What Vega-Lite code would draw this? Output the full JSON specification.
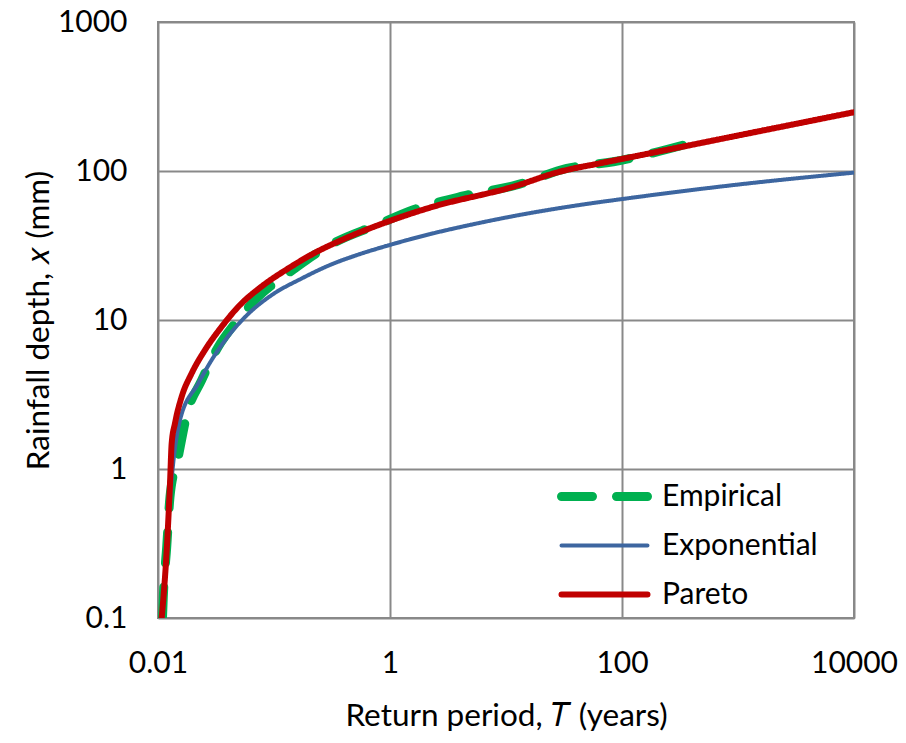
{
  "$schema": "https://vega.github.io/schema/vega-lite/v6.json",
  "autosize": "none",
  "width": 696,
  "height": 596,
  "padding": {"left": 158, "top": 22, "right": 52, "bottom": 125},
  "background": "white",
  "config": {
    "font": "Lato",
    "view": {"stroke": "#898989", "strokeWidth": 2},
    "axis": {"gridColor": "#898989", "gridWidth": 2, "gridOpacity": 1, "domain": false, "ticks": false, "labelFlush": false, "labelFont": "Lato", "labelFontSize": 30, "labelColor": "#000", "titleFont": "Lato", "titleFontSize": 31.5, "titleFontWeight": "normal", "titleColor": "#000"}
  },
  "data": {"values": [
    {"series": "Empirical", "T": 0.01093, "x": 0.1},
    {"series": "Empirical", "T": 0.01111, "x": 0.139},
    {"series": "Empirical", "T": 0.01189, "x": 0.3},
    {"series": "Empirical", "T": 0.01269, "x": 0.652},
    {"series": "Empirical", "T": 0.01496, "x": 1.21},
    {"series": "Empirical", "T": 0.01768, "x": 2.3},
    {"series": "Empirical", "T": 0.0238, "x": 3.95},
    {"series": "Empirical", "T": 0.0331, "x": 6.62},
    {"series": "Empirical", "T": 0.04611, "x": 9.5},
    {"series": "Empirical", "T": 0.0732, "x": 14.3},
    {"series": "Empirical", "T": 0.1329, "x": 20.6},
    {"series": "Empirical", "T": 0.1914, "x": 25.3},
    {"series": "Empirical", "T": 0.3245, "x": 32.7},
    {"series": "Empirical", "T": 0.7678, "x": 43.4},
    {"series": "Empirical", "T": 1.588, "x": 55},
    {"series": "Empirical", "T": 4.28, "x": 68},
    {"series": "Empirical", "T": 12.37, "x": 80.6},
    {"series": "Empirical", "T": 33.4, "x": 104},
    {"series": "Empirical", "T": 84.1, "x": 115.4},
    {"series": "Empirical", "T": 385, "x": 153.5},
    {"series": "Exponential", "T": 0.01093, "x": 0.1},
    {"series": "Exponential", "T": 0.01334, "x": 0.985},
    {"series": "Exponential", "T": 0.01548, "x": 2.13},
    {"series": "Exponential", "T": 0.02226, "x": 3.76},
    {"series": "Exponential", "T": 0.02903, "x": 5.39},
    {"series": "Exponential", "T": 0.04036, "x": 7.8},
    {"series": "Exponential", "T": 0.06004, "x": 11.0},
    {"series": "Exponential", "T": 0.09555, "x": 14.7},
    {"series": "Exponential", "T": 0.1733, "x": 19.0},
    {"series": "Exponential", "T": 0.304, "x": 23.4},
    {"series": "Exponential", "T": 0.5, "x": 27.0},
    {"series": "Exponential", "T": 1, "x": 31.9},
    {"series": "Exponential", "T": 2.212, "x": 37.7},
    {"series": "Exponential", "T": 5, "x": 43.6},
    {"series": "Exponential", "T": 11.6, "x": 49.8},
    {"series": "Exponential", "T": 43.5, "x": 59.2},
    {"series": "Exponential", "T": 100, "x": 64.8},
    {"series": "Exponential", "T": 1000, "x": 81.1},
    {"series": "Exponential", "T": 10000, "x": 97.5},
    {"series": "Pareto", "T": 0.01076, "x": 0.1},
    {"series": "Pareto", "T": 0.01189, "x": 0.286},
    {"series": "Pareto", "T": 0.01269, "x": 0.8},
    {"series": "Pareto", "T": 0.01312, "x": 1.49},
    {"series": "Pareto", "T": 0.01402, "x": 2.03},
    {"series": "Pareto", "T": 0.01601, "x": 3.06},
    {"series": "Pareto", "T": 0.01952, "x": 4.39},
    {"series": "Pareto", "T": 0.02542, "x": 6.29},
    {"series": "Pareto", "T": 0.0354, "x": 9.02},
    {"series": "Pareto", "T": 0.04923, "x": 12.28},
    {"series": "Pareto", "T": 0.0783, "x": 16.8},
    {"series": "Pareto", "T": 0.1329, "x": 22.2},
    {"series": "Pareto", "T": 0.2183, "x": 27.9},
    {"series": "Pareto", "T": 0.4232, "x": 35.6},
    {"series": "Pareto", "T": 1, "x": 46.3},
    {"series": "Pareto", "T": 2.212, "x": 56.8},
    {"series": "Pareto", "T": 11.6, "x": 78.5},
    {"series": "Pareto", "T": 29.2, "x": 99},
    {"series": "Pareto", "T": 64.6, "x": 112.6},
    {"series": "Pareto", "T": 100, "x": 120.5},
    {"series": "Pareto", "T": 1000, "x": 173},
    {"series": "Pareto", "T": 10000, "x": 248}
  ]},
  "mark": {"type": "line", "interpolate": "monotone", "clip": true, "strokeCap": "round", "strokeJoin": "round"},
  "encoding": {
    "x": {"field": "T", "type": "quantitative", "scale": {"type": "log", "domain": [0.01, 10000], "nice": false},
      "axis": {"values": [0.01, 1, 100, 10000], "format": "~g", "labelPadding": 30, "title": "Return period, 𝑇 (years)", "titlePadding": 22}},
    "y": {"field": "x", "type": "quantitative", "scale": {"type": "log", "domain": [0.1, 1000], "nice": false},
      "axis": {"values": [0.1, 1, 10, 100, 1000], "format": "~g", "labelPadding": 31, "title": "Rainfall depth, 𝑥 (mm)", "titlePadding": 2}},
    "color": {"field": "series", "type": "nominal", "scale": {"domain": ["Empirical", "Exponential", "Pareto"], "range": ["#00B050", "#3D66A0", "#C00000"]},
      "legend": {"title": null, "orient": "none", "legendX": 399, "legendY": 450, "symbolType": "stroke", "symbolSize": 7396, "clipHeight": 49, "rowPadding": 0, "padding": 0, "labelFontSize": 30, "labelFont": "Lato", "labelColor": "#000", "labelOffset": 10,
        "encode": {"symbols": {"update": {"strokeCap": {"value": "round"}}}}}},
    "strokeDash": {"field": "series", "type": "nominal", "scale": {"domain": ["Empirical", "Exponential", "Pareto"], "range": [[31, 24], [1, 0], [1, 0]]}, "legend": {"title": null}},
    "strokeWidth": {"field": "series", "type": "nominal", "scale": {"type": "ordinal", "domain": ["Empirical", "Exponential", "Pareto"], "range": [9, 4, 6]}, "legend": {"title": null}}
  }
}
